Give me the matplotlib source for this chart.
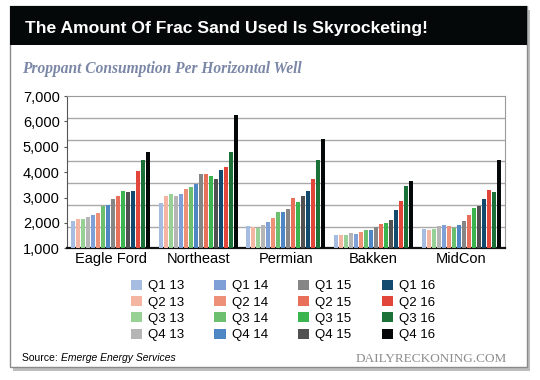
import matplotlib
matplotlib.use('Agg')
import matplotlib.pyplot as plt
from matplotlib.patches import Rectangle
import numpy as np

plt.rcParams['font.family'] = ['Liberation Sans', 'DejaVu Sans']

# data
regions = ['Eagle Ford', 'Northeast', 'Permian', 'Bakken', 'MidCon']
quarters = ['Q1 13', 'Q2 13', 'Q3 13', 'Q4 13',
            'Q1 14', 'Q2 14', 'Q3 14', 'Q4 14',
            'Q1 15', 'Q2 15', 'Q3 15', 'Q4 15',
            'Q1 16', 'Q2 16', 'Q3 16', 'Q4 16']

eagle_ford = [2090, 2170, 2170, 2250, 2320, 2400, 2660, 2690,
              2930, 3070, 3270, 3210, 3270, 4050, 4470, 4790]
northeast = [2800, 3070, 3120, 3070, 3140, 3350, 3410, 3530,
             3920, 3920, 3830, 3740, 4080, 4200, 4800, 6250]
permian = [1880, 1850, 1810, 1900, 2040, 2190, 2420, 2420,
           2550, 3000, 2830, 3060, 3250, 3740, 4460, 5310]
bakken = [1520, 1520, 1520, 1590, 1580, 1640, 1720, 1720,
          1850, 1940, 2010, 2110, 2510, 2870, 3440, 3650]
midcon = [1750, 1730, 1770, 1880, 1920, 1880, 1810, 1900,
          2090, 2320, 2590, 2660, 2930, 3310, 3210, 4460]

colors = ['#a6bce0', '#f4b5a3', '#98d196', '#b5b5b5',
          '#7fa0d6', '#ee8f78', '#6cbf6f', '#4f86c4',
          '#868686', '#e8705b', '#3bb54f', '#515151',
          '#12496e', '#e2453a', '#1c7139', '#050808']

all_values = [eagle_ford, northeast, permian, bakken, midcon]

W, H = 540, 380
def fx(x):
    return x / W
def fy(y):
    return 1 - y / H

fig = plt.figure(figsize=(5.4, 3.8), dpi=100)

# card, shadow and header bar
fig.patches.append(Rectangle((fx(13), fy(371)), fx(517), 361 / H, transform=fig.transFigure,
                             facecolor='#bdbdbd', edgecolor='none', zorder=0))
fig.patches.append(Rectangle((fx(10), fy(367)), fx(517), 361 / H, transform=fig.transFigure,
                             facecolor='white', edgecolor='#8a8a8a', lw=1, zorder=1))
fig.patches.append(Rectangle((fx(10), fy(45)), fx(517), 39 / H, transform=fig.transFigure,
                             facecolor='#050808', edgecolor='none', zorder=2))

fig.text(fx(25), fy(28), 'The Amount Of Frac Sand Used Is Skyrocketing!', color='white',
         fontsize=12.6, fontweight='bold', va='center', ha='left')
fig.text(fx(22), fy(69), 'Proppant Consumption Per Horizontal Well', color='#7b87a6',
         fontsize=11.2, fontweight='bold', style='italic', family='Liberation Serif',
         va='center', ha='left')

ax = fig.add_axes([fx(66.7), fy(248.3), fx(505 - 66.7), (248.3 - 96) / H])
ax.set_zorder(3)

x = np.arange(len(regions))
slot = 0.057
bw = 0.046
handles = []
for i, q in enumerate(quarters):
    vals = [v[i] for v in all_values]
    b = ax.bar(x + (i - 7.5) * slot, [v - 1000 for v in vals], bottom=1000, width=bw,
               color=colors[i], label=q, zorder=3)
    handles.append(b)

for g in np.linspace(1000, 7000, 8)[1:-1]:
    ax.axhline(g, color='#a9a9a9', lw=1, zorder=1)

ax.set_xlim(-0.5, 4.5)
ax.set_ylim(1000, 7000)
ax.set_yticks(range(1000, 7001, 1000))
ax.set_yticklabels([f'{v:,}' for v in range(1000, 7001, 1000)], fontsize=10.5)
ax.set_xticks(x)
ax.set_xticklabels(regions, fontsize=10.5)
ax.tick_params(axis='x', length=0, pad=3)
ax.tick_params(axis='y', length=2, pad=3, color='#555555')
for s in ['top', 'right']:
    ax.spines[s].set_color('#9a9a9a')
ax.spines['left'].set_color('#555555')
ax.spines['bottom'].set_color('#111111')
ax.spines['bottom'].set_linewidth(1.6)

fig.legend(handles, quarters, ncol=4, loc='upper left', bbox_to_anchor=(fx(124), fy(273)),
           frameon=False, fontsize=9.5, handlelength=0.85, handleheight=0.8,
           handletextpad=0.45, columnspacing=2.3, labelspacing=0.28, borderpad=0)

src = fig.text(fx(22), fy(361), 'Source: ', fontsize=7.5, va='baseline', ha='left', zorder=5)
ax.annotate('Emerge Energy Services', xy=(1, 0), xycoords=src, fontsize=7.5, style='italic',
            va='bottom', ha='left', annotation_clip=False)
fig.text(fx(507), fy(362), 'DAILYRECKONING.COM', family='Liberation Serif', fontsize=9.5,
         color='#8c8c8c', ha='right', va='baseline')

fig.savefig('out.png', dpi=100)
